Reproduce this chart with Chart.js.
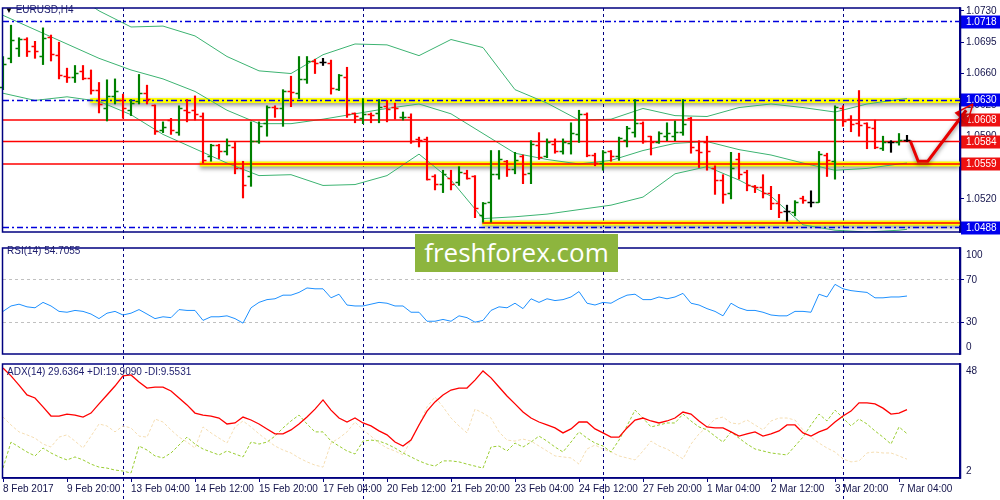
<!DOCTYPE html>
<html>
<head>
<meta charset="utf-8">
<title>EURUSD,H4</title>
<script src="https://cdn.jsdelivr.net/npm/chart.js@4.4.1/dist/chart.umd.min.js"></script>
<style>
  html, body { margin: 0; padding: 0; background: #fff; }
  #wrap { position: relative; width: 1000px; height: 500px; overflow: hidden; font-family: 'Liberation Sans', Arial, sans-serif; }
  .pane { position: absolute; left: 0; width: 1000px; }
  .title { position: absolute; font-size: 10px; color: #1c1c6c; white-space: nowrap; }
  #brand { position: absolute; left: 415px; top: 234px; width: 203px; height: 38px; background: #8db53e; color: #fff;
           font-family: 'Open Sans', sans-serif; font-size: 26px; line-height: 37px; text-align: center; }
</style>
</head>
<body>
<div id="wrap">
  <div class="pane" style="top:0;height:240px"><canvas id="price-chart"></canvas></div>
  <div class="pane" style="top:240px;height:122px"><canvas id="rsi-chart"></canvas></div>
  <div class="pane" style="top:362px;height:138px"><canvas id="adx-chart"></canvas></div>
  <div class="title" style="left:5px;top:4px"><span style="font-size:8px;color:#000">&#9660;</span>&nbsp;EURUSD,H4</div>
  <div class="title" style="left:7px;top:245px">RSI(14) 54.7055</div>
  <div class="title" style="left:7px;top:366px">ADX(14) 29.6364 +DI:19.9090 -DI:9.5531</div>
  <div id="brand">freshforex.com</div>
</div>
<script>
// H4 bars, 8 Feb 2017 12:00 .. 7 Mar 2017 08:00 (index = bar number)
const opens = [
  1.0645, 1.0677, 1.0688, 1.0699, 1.0691, 1.0680, 1.0701, 1.0681, 1.0657, 1.0656,
  1.0663, 1.0655, 1.0642, 1.0621, 1.0635, 1.0630, 1.0619, 1.0629, 1.0638, 1.0625,
  1.0597, 1.0608, 1.0595, 1.0619, 1.0619, 1.0613, 1.0568, 1.0580, 1.0574, 1.0578,
  1.0555, 1.0545, 1.0585, 1.0605, 1.0623, 1.0621, 1.0641, 1.0638, 1.0654, 1.0674,
  1.0673, 1.0672, 1.0643, 1.0656, 1.0616, 1.0610, 1.0615, 1.0616, 1.0624, 1.0623,
  1.0611, 1.0611, 1.0587, 1.0587, 1.0545, 1.0537, 1.0543, 1.0539, 1.0549, 1.0545,
  1.0502, 1.0516, 1.0548, 1.0562, 1.0553, 1.0568, 1.0549, 1.0580, 1.0568, 1.0581,
  1.0574, 1.0582, 1.0593, 1.0615, 1.0569, 1.0560, 1.0573, 1.0568, 1.0586, 1.0595,
  1.0605, 1.0590, 1.0584, 1.0590, 1.0590, 1.0595, 1.0610, 1.0575, 1.0584, 1.0555,
  1.0541, 1.0527, 1.0564, 1.0550, 1.0534, 1.0533, 1.0527, 1.0515, 1.0507, 1.0505,
  1.0521, 1.0517, 1.0517, 1.0569, 1.0562, 1.0621, 1.0609, 1.0605, 1.0605, 1.0599,
  1.0577, 1.0584, 1.0584, 1.0586
];
const highs = [
  1.0679, 1.0714, 1.0700, 1.0700, 1.0696, 1.0711, 1.0703, 1.0695, 1.0666, 1.0669,
  1.0669, 1.0664, 1.0650, 1.0653, 1.0654, 1.0637, 1.0631, 1.0659, 1.0647, 1.0625,
  1.0606, 1.0610, 1.0624, 1.0631, 1.0635, 1.0616, 1.0581, 1.0581, 1.0587, 1.0583,
  1.0562, 1.0606, 1.0606, 1.0624, 1.0624, 1.0642, 1.0657, 1.0679, 1.0679, 1.0676,
  1.0677, 1.0675, 1.0659, 1.0667, 1.0616, 1.0632, 1.0616, 1.0631, 1.0630, 1.0627,
  1.0617, 1.0615, 1.0589, 1.0589, 1.0547, 1.0552, 1.0552, 1.0556, 1.0552, 1.0546,
  1.0516, 1.0574, 1.0574, 1.0563, 1.0572, 1.0569, 1.0585, 1.0594, 1.0587, 1.0587,
  1.0587, 1.0605, 1.0619, 1.0616, 1.0571, 1.0574, 1.0574, 1.0589, 1.0601, 1.0631,
  1.0606, 1.0590, 1.0595, 1.0605, 1.0607, 1.0631, 1.0611, 1.0585, 1.0590, 1.0557,
  1.0547, 1.0572, 1.0571, 1.0552, 1.0535, 1.0547, 1.0534, 1.0525, 1.0513, 1.0518,
  1.0523, 1.0529, 1.0573, 1.0571, 1.0624, 1.0624, 1.0613, 1.0641, 1.0605, 1.0608,
  1.0590, 1.0585, 1.0593, 1.0591
];
const lows = [
  1.0642, 1.0672, 1.0679, 1.0679, 1.0677, 1.0670, 1.0674, 1.0654, 1.0650, 1.0650,
  1.0653, 1.0637, 1.0616, 1.0607, 1.0626, 1.0610, 1.0613, 1.0626, 1.0626, 1.0592,
  1.0594, 1.0592, 1.0591, 1.0606, 1.0608, 1.0560, 1.0562, 1.0565, 1.0569, 1.0548,
  1.0521, 1.0534, 1.0582, 1.0590, 1.0611, 1.0601, 1.0623, 1.0632, 1.0649, 1.0660,
  1.0669, 1.0637, 1.0641, 1.0611, 1.0605, 1.0604, 1.0605, 1.0605, 1.0606, 1.0609,
  1.0608, 1.0582, 1.0578, 1.0541, 1.0530, 1.0527, 1.0530, 1.0535, 1.0542, 1.0499,
  1.0494, 1.0494, 1.0542, 1.0545, 1.0548, 1.0537, 1.0537, 1.0564, 1.0566, 1.0571,
  1.0570, 1.0570, 1.0583, 1.0567, 1.0557, 1.0552, 1.0562, 1.0563, 1.0578, 1.0589,
  1.0582, 1.0569, 1.0582, 1.0585, 1.0585, 1.0591, 1.0571, 1.0555, 1.0552, 1.0525,
  1.0515, 1.0520, 1.0542, 1.0529, 1.0527, 1.0521, 1.0508, 1.0499, 1.0495, 1.0501,
  1.0515, 1.0511, 1.0516, 1.0545, 1.0542, 1.0601, 1.0595, 1.0590, 1.0576, 1.0576,
  1.0574, 1.0572, 1.0580, 1.0584
];
const closes = [
  1.0671, 1.0697, 1.0699, 1.0685, 1.0685, 1.0700, 1.0682, 1.0658, 1.0656, 1.0661,
  1.0655, 1.0642, 1.0626, 1.0635, 1.0641, 1.0622, 1.0627, 1.0638, 1.0631, 1.0596,
  1.0600, 1.0597, 1.0621, 1.0617, 1.0615, 1.0563, 1.0580, 1.0574, 1.0580, 1.0555,
  1.0535, 1.0585, 1.0601, 1.0623, 1.0622, 1.0641, 1.0639, 1.0654, 1.0674, 1.0672,
  1.0673, 1.0644, 1.0658, 1.0615, 1.0613, 1.0615, 1.0614, 1.0623, 1.0620, 1.0622,
  1.0612, 1.0585, 1.0586, 1.0542, 1.0537, 1.0548, 1.0537, 1.0550, 1.0543, 1.0510,
  1.0515, 1.0548, 1.0565, 1.0553, 1.0563, 1.0548, 1.0581, 1.0567, 1.0583, 1.0574,
  1.0583, 1.0594, 1.0615, 1.0569, 1.0560, 1.0572, 1.0568, 1.0588, 1.0599, 1.0605,
  1.0585, 1.0584, 1.0594, 1.0594, 1.0595, 1.0604, 1.0578, 1.0572, 1.0573, 1.0541,
  1.0525, 1.0555, 1.0548, 1.0536, 1.0533, 1.0527, 1.0515, 1.0505, 1.0507, 1.0517,
  1.0519, 1.0517, 1.0570, 1.0563, 1.0623, 1.0607, 1.0604, 1.0603, 1.0600, 1.0578,
  1.0583, 1.0584, 1.0586, 1.0586
];

// Bollinger bands read at these bar numbers
const bandIdx = [0, 4, 8, 12, 16, 20, 24, 28, 32, 36, 40, 44, 48, 52, 56, 60, 64, 68, 72, 76, 80, 84, 88, 92, 96, 100, 104, 108, 112, 113];
const bandUpper = [1.0799, 1.0778, 1.0754, 1.0730, 1.0712, 1.0713, 1.0702, 1.0679, 1.0663, 1.0660, 1.0681, 1.0693, 1.0692, 1.0680, 1.0698,
                   1.0689, 1.0642, 1.0627, 1.0608, 1.0609, 1.0621, 1.0613, 1.0612, 1.0622, 1.0626, 1.0622, 1.0617, 1.0626, 1.0631, 1.0632];
const bandMiddle = [1.0725, 1.0709, 1.0693, 1.0677, 1.0664, 1.0654, 1.0640, 1.0619, 1.0604, 1.0604, 1.0609, 1.0615, 1.0621, 1.0626, 1.0615,
                    1.0593, 1.0571, 1.0564, 1.0559, 1.0563, 1.0574, 1.0582, 1.0584, 1.0575, 1.0569, 1.0560, 1.0552, 1.0554, 1.0559, 1.0560];
const bandLower = [1.0638, 1.0630, 1.0634, 1.0629, 1.0614, 1.0592, 1.0576, 1.0560, 1.0546, 1.0547, 1.0535, 1.0536, 1.0546, 1.0570, 1.0541,
                   1.0498, 1.0500, 1.0503, 1.0508, 1.0513, 1.0522, 1.0548, 1.0556, 1.0541, 1.0523, 1.0491, 1.0485, 1.0483, 1.0485, 1.0486];

const rsi = [
  40.2, 45.3, 47.0, 44.5, 43.6, 48.7, 45.3, 40.2, 39.4, 41.1,
  40.2, 37.7, 33.4, 38.5, 40.2, 36.8, 38.5, 41.9, 37.7, 33.4,
  35.1, 34.3, 41.9, 41.1, 41.1, 31.7, 35.1, 35.1, 36.0, 33.4,
  29.1, 43.6, 48.7, 51.3, 52.1, 55.5, 55.5, 58.1, 62.3, 61.5,
  61.5, 53.0, 56.4, 46.2, 45.3, 45.3, 47.0, 48.7, 47.9, 45.3,
  45.3, 39.4, 39.4, 30.9, 30.9, 32.6, 30.9, 36.0, 34.3, 30.0,
  31.7, 41.1, 44.5, 43.6, 47.9, 42.8, 52.1, 48.7, 52.1, 50.4,
  51.3, 53.8, 58.9, 47.9, 46.2, 48.7, 47.9, 52.1, 55.5, 56.4,
  51.3, 51.3, 53.8, 52.1, 53.8, 57.2, 47.9, 46.2, 42.8, 40.2,
  36.0, 47.9, 43.6, 41.1, 41.1, 39.4, 36.8, 36.0, 36.0, 40.2,
  40.2, 39.4, 56.4, 53.8, 65.7, 61.5, 59.8, 58.9, 58.1, 53.0,
  53.0, 53.8, 53.8, 54.7
];
const adx = [
  46.4, 43.2, 39.5, 35.5, 34.3, 30.7, 27.0, 27.0, 27.8, 27.4,
  26.6, 28.2, 31.9, 35.5, 39.1, 43.2, 43.6, 40.7, 38.3, 38.7,
  38.7, 37.1, 34.3, 31.5, 28.2, 27.4, 27.0, 26.2, 23.8, 24.2,
  26.6, 25.4, 23.8, 21.8, 19.8, 19.8, 21.4, 23.8, 26.6, 29.8,
  33.5, 29.4, 26.2, 24.6, 26.2, 24.2, 23.0, 21.0, 19.4, 16.5,
  14.9, 17.3, 23.4, 29.0, 32.7, 35.5, 37.5, 38.3, 38.3, 41.5,
  45.2, 42.4, 38.7, 35.1, 31.9, 28.6, 26.2, 24.6, 23.4, 22.2,
  20.2, 21.8, 24.6, 24.6, 21.8, 20.2, 18.5, 18.5, 22.2, 25.4,
  26.2, 25.0, 24.2, 25.0, 26.2, 28.6, 27.8, 25.0, 22.6, 22.2,
  22.2, 20.6, 18.9, 19.8, 20.6, 18.9, 19.8, 21.0, 23.4, 23.4,
  20.2, 18.9, 20.6, 21.8, 24.6, 27.0, 29.0, 32.3, 32.3, 31.9,
  30.2, 27.8, 28.2, 29.6
];
const plusDI = [
  6.0, 16.5, 14.5, 12.5, 10.9, 14.1, 12.1, 10.5, 9.3, 10.5,
  9.3, 7.6, 6.4, 6.0, 5.2, 4.8, 4.0, 14.9, 13.3, 10.9,
  10.1, 12.1, 15.3, 18.5, 15.7, 13.7, 12.5, 11.3, 12.9, 11.7,
  10.5, 16.5, 15.7, 16.5, 18.9, 22.2, 25.0, 27.4, 23.8, 20.6,
  20.6, 16.9, 14.9, 12.9, 11.7, 16.9, 17.3, 16.9, 15.7, 14.1,
  12.1, 10.5, 8.9, 7.6, 6.8, 8.9, 8.9, 8.5, 7.6, 6.8,
  6.0, 14.5, 14.9, 12.9, 16.1, 14.5, 16.5, 18.9, 16.9, 14.5,
  12.5, 16.5, 20.6, 18.1, 16.1, 14.9, 12.5, 17.3, 23.0, 29.4,
  26.2, 22.6, 23.4, 24.2, 24.2, 27.8, 25.0, 22.6, 21.4, 18.9,
  16.5, 20.6, 18.1, 15.7, 13.7, 12.9, 12.1, 11.7, 11.3, 14.9,
  18.5, 23.4, 27.8, 25.0, 29.4, 26.2, 23.0, 25.8, 23.8, 21.0,
  18.5, 15.7, 22.6, 19.9
];
const minusDI = [
  26.6, 23.4, 20.6, 19.4, 18.1, 15.7, 14.5, 18.5, 19.4, 16.9,
  14.1, 18.9, 23.8, 23.0, 20.6, 23.0, 22.2, 18.9, 18.5, 25.8,
  24.6, 21.4, 18.5, 16.5, 14.1, 22.6, 20.2, 18.1, 16.1, 22.6,
  25.0, 22.6, 19.8, 17.3, 14.9, 13.3, 12.1, 10.1, 8.5, 7.2,
  6.4, 16.1, 18.1, 20.6, 24.6, 21.4, 18.9, 16.1, 14.1, 12.9,
  11.3, 17.3, 23.4, 30.7, 34.7, 30.7, 26.2, 23.0, 20.2, 29.8,
  28.2, 26.2, 20.6, 17.3, 16.9, 17.7, 16.9, 14.9, 12.9, 10.9,
  10.5, 10.1, 7.6, 13.7, 15.3, 13.7, 12.5, 10.9, 10.1, 9.3,
  12.9, 16.9, 14.9, 13.7, 11.7, 9.7, 15.7, 19.8, 22.6, 25.8,
  26.6, 24.2, 23.8, 25.4, 23.4, 21.4, 25.0, 26.2, 26.2, 25.4,
  21.4, 18.5, 16.1, 14.1, 12.5, 9.7, 8.5, 8.9, 12.1, 12.5,
  12.1, 12.1, 10.9, 9.6
];

// axis labels
const labelIdx = [0, 8, 16, 24, 32, 40, 48, 56, 64, 72, 80, 88, 96, 104, 112];
const timeLabels = ['8 Feb 2017', '9 Feb 20:00', '13 Feb 04:00', '14 Feb 12:00', '15 Feb 20:00', '17 Feb 04:00', '20 Feb 12:00',
                    '21 Feb 20:00', '23 Feb 04:00', '24 Feb 12:00', '27 Feb 20:00', '1 Mar 04:00', '2 Mar 12:00', '3 Mar 20:00', '7 Mar 04:00'];
const weekStarts = [15, 45, 75, 105];
const priceTicks = [1.0485, 1.0520, 1.0555, 1.0590, 1.0625, 1.0660, 1.0695, 1.0730];
const rsiLevels = [30, 70];

// drawn levels
const dashLevels = [1.0718, 1.0630, 1.0488];
const redLevels = [1.0608, 1.0584, 1.0559];
const zoneLevels = [1.0630, 1.0559, 1.0493];
const zoneStarts = [10.9, 24.6, 59.9];
const tagValues = [1.0718, 1.0630, 1.0608, 1.0584, 1.0559, 1.0488];
const tagColors = ['#0000ee', '#0000ee', '#ee1111', '#ee1111', '#ee1111', '#0000ee'];

// hand drawn arrow (bar number, price)
const arrowX = [113.4, 114.4, 115.6, 120.4];
const arrowY = [1.0585, 1.0562, 1.0562, 1.0619];
const arrowHeadX = [121.25, 119.1, 120.5, 121.25];
const arrowHeadY = [1.0626, 1.0616, 1.0604, 1.0626];

const X_MAX = 119.625;
const NAVY = '#000080';
const AXIS_TEXT = '#14144c';

Chart.defaults.font.family = "'Liberation Sans', Arial, sans-serif";
Chart.defaults.font.size = 10;
Chart.defaults.animation = false;

const barColors = opens.map((o, i) => closes[i] > o ? '#008000' : (closes[i] < o ? '#ff0000' : '#000000'));
const pts = (xs, ys) => xs.map((x, i) => ({x: x, y: ys[i]}));
const series = ys => ys.map((y, i) => ({x: i, y: y}));

const hline = (v, from, color, width, dash, order, extra) => Object.assign({
  type: 'line',
  data: [{x: from, y: v}, {x: X_MAX, y: v}],
  borderColor: color,
  borderWidth: width,
  borderDash: dash,
  pointRadius: 0,
  order: order
}, extra || {});

// ---- plugins ----
const shadows = {
  id: 'shadows',
  beforeDatasetDraw(chart, args) {
    if (!chart.data.datasets[args.index].shadow) return;
    const ctx = chart.ctx;
    ctx.save();
    ctx.shadowColor = 'rgba(0,0,0,0.45)';
    ctx.shadowBlur = 4;
    ctx.shadowOffsetY = 2;
  },
  afterDatasetDraw(chart, args) {
    if (chart.data.datasets[args.index].shadow) chart.ctx.restore();
  }
};

const separators = {
  id: 'separators',
  beforeDatasetsDraw(chart) {
    const {ctx, chartArea: a, scales: {x}} = chart;
    ctx.save();
    ctx.strokeStyle = NAVY;
    ctx.lineWidth = 1;
    ctx.setLineDash([3, 3]);
    weekStarts.forEach(i => {
      const px = Math.round(x.getPixelForValue(i)) + 0.5;
      ctx.beginPath();
      ctx.moveTo(px, a.top);
      ctx.lineTo(px, chart.height);
      ctx.stroke();
    });
    ctx.restore();
  }
};

const frame = {
  id: 'frame',
  afterDraw(chart) {
    const {ctx, chartArea: a} = chart;
    ctx.save();
    ctx.strokeStyle = NAVY;
    ctx.lineWidth = 1.5;
    ctx.strokeRect(a.left - 0.5, a.top, a.right - a.left + 1, a.bottom - a.top);
    ctx.restore();
  }
};

const ohlcTicks = {
  id: 'ohlcTicks',
  afterDatasetsDraw(chart) {
    const {ctx, scales: {x, y}} = chart;
    ctx.save();
    ctx.lineWidth = 1.4;
    opens.forEach((o, i) => {
      const px = x.getPixelForValue(i);
      const yo = Math.round(y.getPixelForValue(o)) + 0.5;
      const yc = Math.round(y.getPixelForValue(closes[i])) + 0.5;
      ctx.strokeStyle = barColors[i];
      ctx.beginPath();
      ctx.moveTo(px - 3.5, yo);
      ctx.lineTo(px, yo);
      ctx.moveTo(px, yc);
      ctx.lineTo(px + 3.5, yc);
      ctx.stroke();
    });
    ctx.restore();
  }
};

const tags = {
  id: 'tags',
  beforeDatasetsDraw(chart) {
    const {ctx, chartArea: a, scales: {y}} = chart;
    ctx.save();
    ctx.font = "10px 'Liberation Sans', Arial, sans-serif";
    ctx.textBaseline = 'middle';
    tagValues.forEach((v, i) => {
      const py = Math.round(y.getPixelForValue(v));
      ctx.fillStyle = tagColors[i];
      ctx.fillRect(a.right + 1, py - 6.5, chart.width - a.right - 1, 13);
      ctx.fillStyle = '#ffffff';
      ctx.fillText(v.toFixed(4), a.right + 6, py + 0.5);
    });
    ctx.restore();
  }
};

const insetLabels = {
  id: 'insetLabels',
  afterDraw(chart, args, opts) {
    const {ctx, chartArea: a} = chart;
    ctx.save();
    ctx.font = "10px 'Liberation Sans', Arial, sans-serif";
    ctx.fillStyle = AXIS_TEXT;
    ctx.textBaseline = 'middle';
    ctx.fillText(opts.top, a.right + 6, a.top + 7);
    ctx.fillText(opts.bottom, a.right + 6, a.bottom - 7);
    ctx.restore();
  }
};

const fixedWidth = s => { s.width = 40; };
const pad = {left: 3, top: 2, right: 0, bottom: 2};

// ---- price window ----
const priceDatasets = [];
zoneLevels.forEach((v, i) => priceDatasets.push(hline(v, zoneStarts[i], '#ffff00', 5, [], 20, {shadow: true})));
[bandUpper, bandMiddle, bandLower].forEach(b => priceDatasets.push({
  type: 'line', data: pts(bandIdx, b), borderColor: '#3cb371', borderWidth: 1, pointRadius: 0, tension: 0, order: 15
}));
dashLevels.forEach(v => priceDatasets.push(hline(v, 0, '#0000dd', 1.5, [6, 3, 2, 3], 12)));
redLevels.forEach(v => priceDatasets.push(hline(v, 0, '#ff0000', 1.5, [], 11)));
priceDatasets.push(hline(zoneLevels[2], zoneStarts[2], '#ff0000', 1.5, [], 11));
priceDatasets.push({
  type: 'bar',
  data: highs.map((h, i) => ({x: i, y: [lows[i], h]})),
  backgroundColor: barColors,
  barThickness: 1.5,
  borderWidth: 0,
  order: 5
});
priceDatasets.push({
  type: 'line', data: pts(arrowX, arrowY), borderColor: '#e80000', borderWidth: 3,
  pointRadius: 0, tension: 0, clip: false, shadow: true, order: 1
});
priceDatasets.push({
  type: 'line', data: pts(arrowHeadX, arrowHeadY), borderColor: '#e80000', backgroundColor: '#e80000',
  borderWidth: 1.5, fill: 'shape', pointRadius: 0, tension: 0, clip: false, shadow: true, order: 0
});

const priceChart = new Chart(document.getElementById('price-chart'), {
  type: 'bar',
  data: {datasets: priceDatasets},
  options: {
    responsive: true,
    maintainAspectRatio: false,
    layout: {padding: pad},
    plugins: {legend: {display: false}, tooltip: {enabled: false}},
    scales: {
      x: {type: 'linear', min: 0, max: X_MAX, offset: false, display: false},
      y: {
        position: 'right',
        min: 1.0483,
        max: 1.07332,
        afterFit: fixedWidth,
        afterBuildTicks: s => { s.ticks = priceTicks.map(v => ({value: v})); },
        ticks: {callback: v => v.toFixed(4), color: AXIS_TEXT, padding: 2},
        grid: {drawOnChartArea: false, tickLength: 4, tickColor: NAVY},
        border: {color: NAVY, width: 1.5}
      }
    }
  },
  plugins: [shadows, separators, tags, ohlcTicks, frame]
});

// ---- RSI window ----
const rsiChart = new Chart(document.getElementById('rsi-chart'), {
  type: 'line',
  data: {
    datasets: [{data: series(rsi), borderColor: '#1e90ff', borderWidth: 1, pointRadius: 0, tension: 0}]
  },
  options: {
    responsive: true,
    maintainAspectRatio: false,
    layout: {padding: pad},
    plugins: {legend: {display: false}, tooltip: {enabled: false}, insetLabels: {top: '100', bottom: '0'}},
    scales: {
      x: {type: 'linear', min: 0, max: X_MAX, display: false},
      y: {
        position: 'right',
        min: 0,
        max: 100,
        afterFit: fixedWidth,
        afterBuildTicks: s => { s.ticks = rsiLevels.map(v => ({value: v})); },
        ticks: {color: AXIS_TEXT, padding: 2},
        grid: {color: '#c0c0c0', tickLength: 4, tickColor: NAVY},
        border: {color: NAVY, width: 1.5, dash: [3, 3]}
      }
    }
  },
  plugins: [separators, insetLabels, frame]
});

// ---- ADX window ----
const adxChart = new Chart(document.getElementById('adx-chart'), {
  type: 'line',
  data: {
    datasets: [
      {data: series(adx), borderColor: '#ff0000', borderWidth: 1.3, pointRadius: 0, tension: 0, order: 0},
      {data: series(plusDI), borderColor: '#9acd32', borderWidth: 1, borderDash: [3, 2], pointRadius: 0, tension: 0, order: 1},
      {data: series(minusDI), borderColor: '#f5deb3', borderWidth: 1, borderDash: [3, 2], pointRadius: 0, tension: 0, order: 2}
    ]
  },
  options: {
    responsive: true,
    maintainAspectRatio: false,
    layout: {padding: pad},
    plugins: {legend: {display: false}, tooltip: {enabled: false}, insetLabels: {top: '48', bottom: '2'}},
    scales: {
      x: {
        type: 'linear',
        min: 0,
        max: X_MAX,
        afterFit: s => { s.height = 20; },
        afterBuildTicks: s => { s.ticks = labelIdx.map(v => ({value: v})); },
        ticks: {callback: (v, i) => timeLabels[i], align: 'start', autoSkip: false, maxRotation: 0, color: AXIS_TEXT, padding: 1},
        grid: {drawOnChartArea: false, tickLength: 4, tickColor: NAVY},
        border: {color: NAVY, width: 1.5}
      },
      y: {
        position: 'right',
        min: 2,
        max: 48,
        afterFit: fixedWidth,
        afterBuildTicks: s => { s.ticks = []; },
        grid: {drawOnChartArea: false, tickColor: NAVY},
        border: {color: NAVY, width: 1.5}
      }
    }
  },
  plugins: [separators, insetLabels, frame]
});
</script>
</body>
</html>
